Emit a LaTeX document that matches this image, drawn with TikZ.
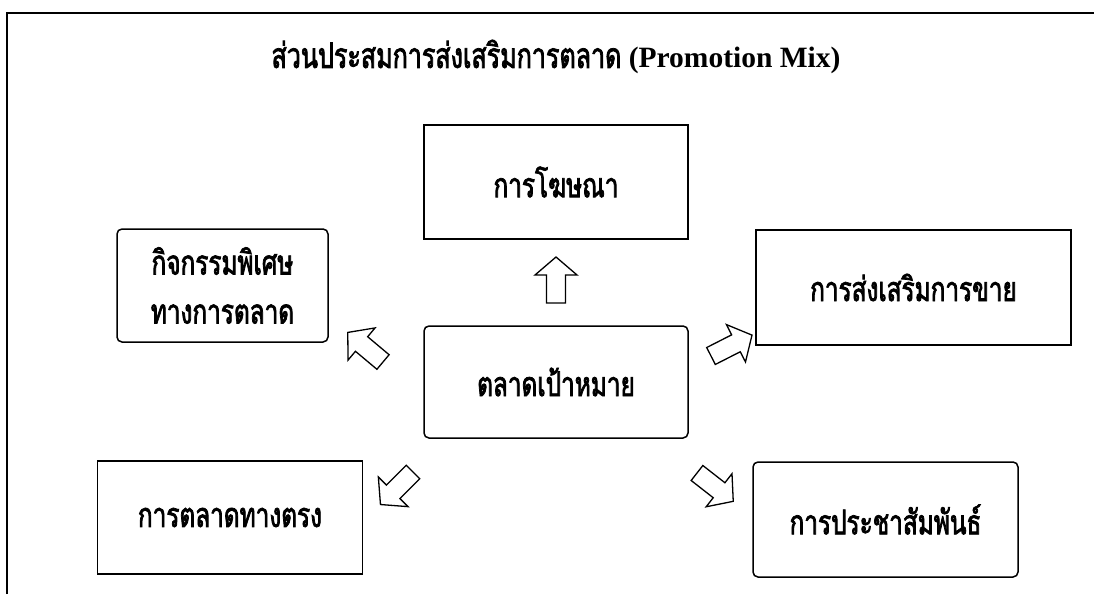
\documentclass[tikz,border=0pt]{standalone}
\usepackage{fontspec}
\setmainfont{Liberation Serif}
\newfontfamily\thai[Script=Thai,FakeStretch=0.716,FakeBold=2.2]{Loma}
\newcommand{\thaitext}{\thai\fontsize{34}{49}\selectfont}
\begin{document}
\begin{tikzpicture}[x=1pt,y=-1pt,
  sqbox/.style={draw,line width=1.5pt,inner sep=0pt,align=center,font=\thaitext},
  rbox/.style={sqbox,rounded corners=5pt},
  blockarrow/.pic={\draw[line width=1.3pt,line join=miter,fill=white]
    (0,-9.5) -- (28,-9.5) -- (28,-21) -- (46,0) -- (28,21) -- (28,9.5) -- (0,9.5) -- cycle;}]
\useasboundingbox (0,0) rectangle (1094,594);
% frame
\coordinate (fbl) at (7.3,594);
\coordinate (ftl) at (7.3,13.3);
\coordinate (ftr) at (1094,13.3);
\draw[line width=1.8pt,line join=miter] (fbl) -- (ftl) -- (ftr);
% title
\node (title) at (556,57) {{\thai\fontsize{35}{40}\selectfont ส่วนประสมการส่งเสริมการตลาด}{\bfseries\fontsize{29.5}{34}\selectfont\ (Promotion Mix)}};
% boxes
\node[sqbox,minimum width=264pt,minimum height=114pt] (adv) at (556,182) {การโฆษณา};
\node[rbox,minimum width=211pt,minimum height=113pt] (event) at (222.5,285.5) {กิจกรรมพิเศษ\\ทางการตลาด};
\node[sqbox,minimum width=315pt,minimum height=115pt] (sales) at (913.5,287.5) {การส่งเสริมการขาย};
\node[rbox,minimum width=264pt,minimum height=112pt] (target) at (556,382) {ตลาดเป้าหมาย};
\node[sqbox,minimum width=265pt,minimum height=113pt] (direct) at (230,517.5) {การตลาดทางตรง};
\node[rbox,minimum width=265pt,minimum height=115pt] (pr) at (885.5,519.5) {การประชาสัมพันธ์};
% block arrows
\pic[rotate=90] (aUp) at (556,303) {blockarrow};
\pic[rotate=27] (aUR) at (711,356) {blockarrow};
\pic[rotate=140] (aUL) at (383,362) {blockarrow};
\pic[rotate=225] (aDL) at (413,472) {blockarrow};
\pic[rotate=-38] (aDR) at (697,473) {blockarrow};
\end{tikzpicture}
\end{document}
